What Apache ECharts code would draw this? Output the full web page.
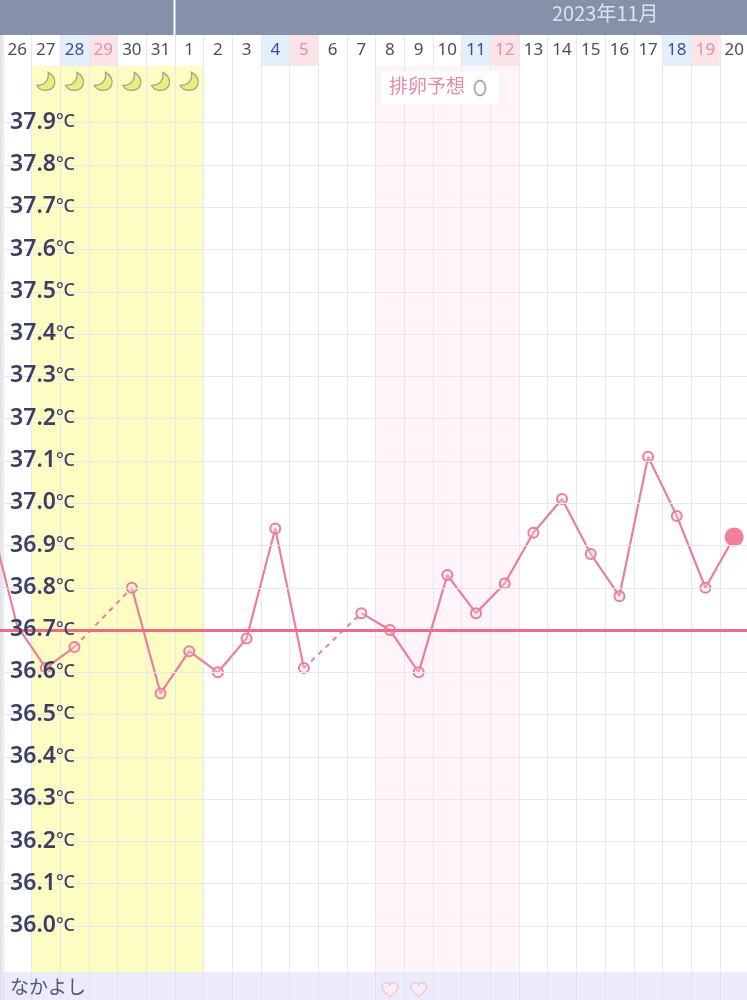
<!DOCTYPE html>
<html>
<head>
<meta charset="utf-8">
<title>基礎体温</title>
<script src="https://cdn.jsdelivr.net/npm/echarts@6/dist/echarts.min.js"></script>
<style>
html, body { margin: 0; padding: 0; background: #fff; }
#main { width: 747px; height: 1000px; }
</style>
</head>
<body>
<div id="main"></div>
<script>
// 25 is off the left edge, it only gives the line coming in from the left
var days = ['25', '26', '27', '28', '29', '30', '31', '1', '2', '3', '4', '5', '6', '7', '8', '9', '10', '11', '12', '13', '14', '15', '16', '17', '18', '19', '20']
var temps = [36.98, 36.71, 36.61, 36.66, null, 36.80, 36.55, 36.65, 36.60, 36.68, 36.94, 36.61, null, 36.74, 36.70, 36.60, 36.83, 36.74, 36.81, 36.93, 37.01, 36.88, 36.78, 37.11, 36.97, 36.80, 36.92]
var saturdays = ['28', '4', '11', '18']
var sundays = ['29', '5', '12', '19']
var periodDays = ['27', '28', '29', '30', '31', '1']
var ovulationDays = ['8', '9', '10', '11', '12']
var loveDays = ['8', '9']
var coverLine = 36.7
var noMarkerDays = ['25', '26']
var monthTitle = '2023年11月'
var ovulationTitle = '排卵予想'
var rowTitle = 'なかよし'

var pink = '#ea7f9b'
var lineGray = '#e7e8ed'
var colWidth = 28.68
var gridLeft = 2.8 - colWidth
var gridWidth = colWidth * days.length

var has = function(list, d) {
    return list.indexOf(d) >= 0
}

// 点線: 欠測日の前後をつなぐ
var gapSeries = []
temps.forEach(function(t, i) {
    if (t === null) {
        var data = temps.map(function(v, j) {
            return j === i - 1 || j === i + 1 ? v : null
        })
        gapSeries.push({
            type: 'line', xAxisIndex: 1, yAxisIndex: 1, data: data, connectNulls: true,
            symbol: 'none', silent: true, z: 3,
            lineStyle: { color: pink, width: 2, type: [5, 5] },
        })
    }
})

var solidData = temps.map(function(t, i) {
    var d = days[i]
    if (has(noMarkerDays, d)) {
        return { value: t, symbol: 'none' }
    }
    if (i === temps.length - 1) {
        return { value: t, symbol: 'circle', symbolSize: 19, itemStyle: { color: '#f27e9d', borderWidth: 0 } }
    }
    return { value: t }
})

var makeAxisX = function(index, extra) {
    var axis = {
        type: 'category', data: days, gridIndex: index, boundaryGap: true,
        axisLine: { show: false }, axisTick: { show: false }, axisLabel: { show: false },
        splitLine: { show: false },
    }
    return Object.assign(axis, extra)
}
var splitX = { show: true, interval: 0, lineStyle: { color: lineGray, width: 1 } }

var option = {
    animation: false,
    backgroundColor: '#fff',
    textStyle: { fontFamily: '"Noto Sans", "Noto Sans CJK JP", sans-serif' },
    grid: [
        // 0 日付の行
        { left: gridLeft, width: gridWidth, top: 35, height: 31, outerBoundsMode: 'none' },
        // 1 体温 (38.0 - 35.9)
        { left: gridLeft, width: gridWidth, top: 80.4, height: 887.9, outerBoundsMode: 'none' },
        // 2 生理と排卵の帯
        { left: gridLeft, width: gridWidth, top: 66, height: 906, outerBoundsMode: 'none' },
        // 3 なかよしの行
        { left: gridLeft, width: gridWidth, top: 972, height: 28, outerBoundsMode: 'none' },
    ],
    xAxis: [
        makeAxisX(0, {
            position: 'top', z: 4, splitLine: splitX,
            axisLabel: {
                show: true, inside: true, interval: 0, margin: 7, fontSize: 17,
                fontFamily: '"Noto Sans", sans-serif',
                color: function(d) {
                    if (has(saturdays, d)) {
                        return '#3f49ad'
                    }
                    return has(sundays, d) ? '#e88ea8' : '#4a4d63'
                },
            },
        }),
        makeAxisX(1, {}),
        makeAxisX(2, { z: 1, splitLine: splitX }),
        makeAxisX(3, { z: 1, splitLine: { show: true, interval: 0, lineStyle: { color: '#e2e2f2' } } }),
    ],
    yAxis: [
        { type: 'value', gridIndex: 0, min: 0, max: 1, show: false },
        {
            type: 'value', gridIndex: 1, min: 35.9, max: 38, interval: 0.1, z: 5,
            axisLine: { show: false }, axisTick: { show: false },
            splitLine: { show: true, showMinLine: false, showMaxLine: false, lineStyle: { color: lineGray, width: 1 } },
            axisLabel: {
                inside: true, margin: 36, showMinLabel: false, showMaxLabel: false,
                formatter: function(v) {
                    return '{n|' + v.toFixed(1) + '}{u|°C}'
                },
                rich: {
                    n: { fontSize: 23, fontWeight: 600, color: '#3a3f63', fontFamily: '"Noto Sans", sans-serif', padding: [0, 0, 1, 0] },
                    u: { fontSize: 18, fontWeight: 500, color: '#3a3f63', fontFamily: '"Noto Sans", sans-serif', padding: [0, 0, 1, 0] },
                },
            },
        },
        { type: 'value', gridIndex: 2, min: 0, max: 1, show: false },
        { type: 'value', gridIndex: 3, min: 0, max: 1, show: false },
    ],
    series: [
        {
            // 土日の色
            type: 'bar', xAxisIndex: 0, yAxisIndex: 0, barWidth: '100%', silent: true, z: 0,
            data: days.map(function(d) {
                var c = has(saturdays, d) ? '#e3effa' : has(sundays, d) ? '#fbe4e7' : '#fff'
                return { value: 1, itemStyle: { color: c } }
            }),
        },
        {
            type: 'bar', xAxisIndex: 2, yAxisIndex: 2, barWidth: '100%', silent: true, z: 0,
            data: days.map(function(d) {
                var c = has(periodDays, d) ? '#fdfcc2' : has(ovulationDays, d) ? '#fef4f9' : 'transparent'
                return { value: 1, itemStyle: { color: c } }
            }),
        },
        {
            type: 'bar', xAxisIndex: 3, yAxisIndex: 3, barWidth: '100%', silent: true, z: 0,
            data: days.map(function() {
                return { value: 1, itemStyle: { color: '#ebebfb' } }
            }),
        },
        {
            // 月のマーク
            type: 'scatter', xAxisIndex: 2, yAxisIndex: 2, silent: true, z: 3, symbolSize: 18,
            symbol: 'path://M62 4C68 40 48 66 6 68C24 100 82 102 94 62C100 36 84 14 62 4Z',
            itemStyle: { color: '#e9e96a', borderColor: '#8f8f8f', borderWidth: 1.3 },
            data: days.map(function(d) {
                return has(periodDays, d) ? 0.983 : null
            }),
        },
        {
            // ハート
            type: 'scatter', xAxisIndex: 3, yAxisIndex: 3, silent: true, z: 3, symbolSize: [16, 14],
            symbol: 'path://M50 92C20 68 4 52 4 32C4 16 16 6 28 6C38 6 46 12 50 20C54 12 62 6 72 6C84 6 96 16 96 32C96 52 80 68 50 92Z',
            itemStyle: { color: '#fdeff4', borderColor: '#eeb7c8', borderWidth: 1.2 },
            data: days.map(function(d) {
                return has(loveDays, d) ? 0.37 : null
            }),
        },
    ].concat(gapSeries).concat([
        {
            type: 'line', xAxisIndex: 1, yAxisIndex: 1, data: solidData, silent: true, z: 3,
            symbol: 'circle', symbolSize: 10,
            lineStyle: { color: pink, width: 2.2 },
            itemStyle: { color: 'rgba(250,215,225,0.35)', borderColor: pink, borderWidth: 2 },
            markLine: {
                silent: true, symbol: 'none', label: { show: false },
                lineStyle: { color: '#ee6d86', width: 3, type: 'solid' },
                data: [{ yAxis: coverLine }],
            },
        },
    ]),
    graphic: [
        { type: 'rect', z: 20, shape: { x: 0, y: 0, width: 747, height: 35 }, style: { fill: '#8491a9' } },
        { type: 'rect', z: 21, shape: { x: 173.5, y: 0, width: 2, height: 35 }, style: { fill: '#fff' } },
        { type: 'text', z: 21, x: 552, y: 3, style: { text: monthTitle, fill: '#dde2ea', fontSize: 20, fontFamily: '"Noto Sans CJK JP", sans-serif' } },
        { type: 'rect', z: 1, shape: { x: 0, y: 35, width: 2.5, height: 965 }, style: { fill: '#e3e3e8' } },
        { type: 'rect', z: 20, shape: { x: 381, y: 71, width: 118, height: 33 }, style: { fill: '#fff' } },
        { type: 'text', z: 21, x: 389, y: 76, style: { text: ovulationTitle, fill: '#e58ba6', fontSize: 19, fontFamily: '"Noto Sans CJK JP", sans-serif' } },
        { type: 'ellipse', z: 21, shape: { cx: 480, cy: 88, rx: 5.5, ry: 7.5 }, style: { fill: '#fff', stroke: '#a3a8b5', lineWidth: 1.8 } },
        { type: 'text', z: 21, x: 10, y: 977, style: { text: rowTitle, fill: '#55587a', fontSize: 19, fontFamily: '"Noto Sans CJK JP", sans-serif' } },
    ],
}

var myChart = echarts.init(document.getElementById('main'), null, { renderer: 'canvas' })
myChart.setOption(option)
</script>
</body>
</html>
